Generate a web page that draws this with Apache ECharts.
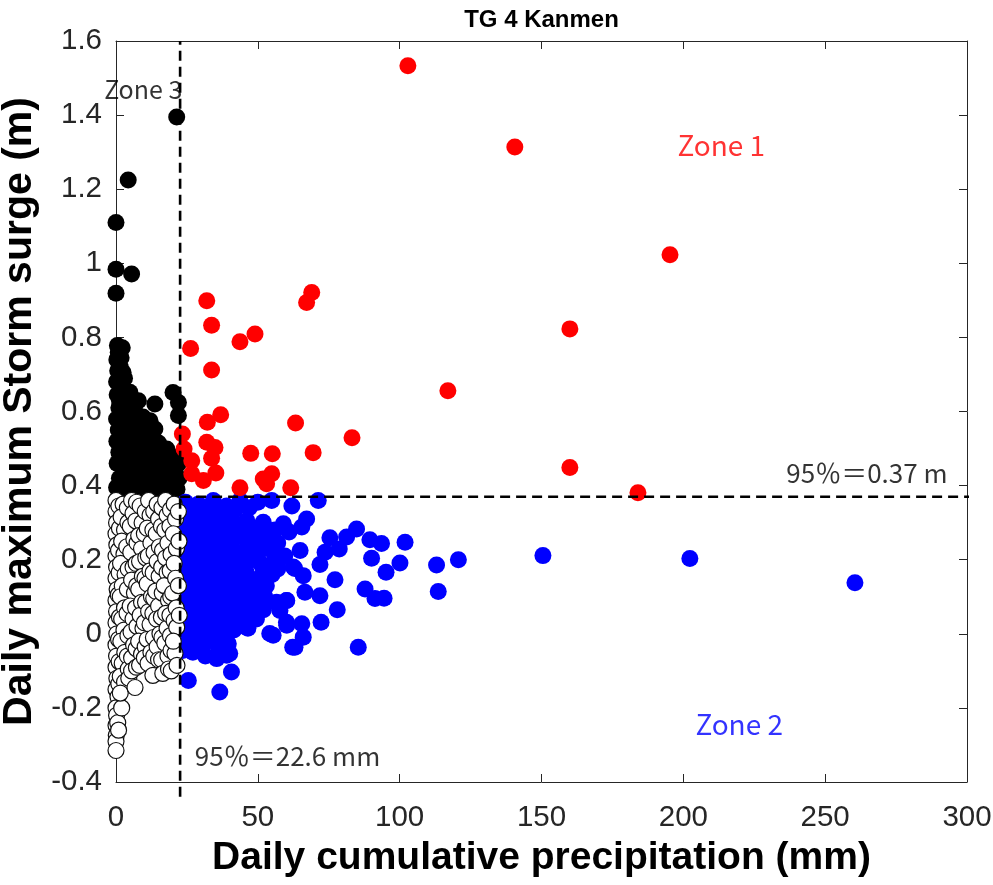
<!DOCTYPE html>
<html>
<head>
<meta charset="utf-8">
<script src="https://cdn.jsdelivr.net/npm/echarts@6/dist/echarts.min.js"></script>
<style>
html,body{margin:0;padding:0;background:#fff;}
#chart{width:993px;height:885px;}
</style>
</head>
<body>
<div id="chart"></div>
<script>
// thresholds (95th percentile)
var pcp95 = 22.6;
var surge95 = 0.37;

// axis ticks
var xTicks = [0, 50, 100, 150, 200, 250, 300];
var yTicks = [-0.4, -0.2, 0, 0.2, 0.4, 0.6, 0.8, 1, 1.2, 1.4, 1.6];

// zone 1: precipitation > 22.6 and surge > 0.37 (red)
var zone1 = [
	[102.9,1.533],[140.6,1.314],[195.3,1.023],[160.0,0.823],[117.0,0.656],[160.0,0.449],[184.0,0.381],
	[32.0,0.899],[33.7,0.833],[26.3,0.770],[43.7,0.788],[49.0,0.809],[69.0,0.921],[67.2,0.894],
	[33.7,0.712],[36.9,0.591],[32.2,0.571],[63.3,0.569],[83.2,0.529],[23.4,0.539],[32.0,0.517],
	[34.9,0.503],[24.0,0.499],[26.7,0.467],[33.7,0.474],[47.5,0.487],[55.1,0.486],[69.5,0.489],
	[35.2,0.434],[26.7,0.432],[30.8,0.414],[51.9,0.418],[54.9,0.432],[53.1,0.405],[43.7,0.394],[61.6,0.394]
];

// zone 2: precipitation > 22.6 and surge <= 0.37 (blue)
var zone2 = [
	[24.5,0.355],[29,0.35],[34.3,0.36],[39,0.345],[43.7,0.36],[54.9,0.36],[71.3,0.36],
	[23.5,0.32],[27.5,0.315],[31.5,0.325],[36,0.31],[40.5,0.32],[46.1,0.306],[51.9,0.301],[59,0.297],[67.2,0.31],[65.5,0.288],
	[25,0.28],[29.5,0.275],[33.5,0.285],[38,0.27],[42,0.28],[48,0.27],[53,0.265],
	[23.8,0.24],[27.8,0.245],[32,0.235],[36.5,0.25],[40.5,0.24],[47,0.245],[52,0.235],[57,0.245],
	[25.5,0.2],[30,0.205],[34,0.195],[38.5,0.21],[43,0.2],[48,0.205],[53.6,0.184],[57.5,0.2],
	[23.5,0.16],[28,0.165],[32.5,0.155],[37,0.17],[41.5,0.16],[46,0.165],[50.5,0.15],[55,0.16],
	[25.5,0.12],[30,0.125],[34.5,0.115],[39,0.13],[43.5,0.12],[47.5,0.11],[50.8,0.122],
	[23.8,0.08],[28.5,0.085],[33,0.075],[37.5,0.09],[42,0.08],[46,0.07],[56.6,0.085],[60.1,0.09],
	[25.5,0.04],[30,0.045],[34.5,0.035],[39,0.05],[43.5,0.04],[49.5,0.04],[60.1,0.031],
	[24,0.005],[28.5,0.0],[33,0.01],[37.5,-0.005],[41.5,0.01],[54.2,0.001],
	[26,-0.03],[31,-0.025],[36,-0.035],[40.1,-0.053],[27.1,-0.05],[35.5,-0.067],[40.7,-0.103],[25.5,-0.126],[36.6,-0.157],
	[26,0.34],[31.5,0.34],[37,0.33],[42,0.335],[47,0.34],[50,0.355],[62,0.345],
	[24,0.3],[29,0.295],[34,0.3],[38.5,0.29],[44,0.295],[49.5,0.285],[56,0.28],[61,0.275],
	[26,0.26],[31,0.255],[35,0.265],[40,0.26],[45,0.26],[50,0.25],[55,0.27],
	[25,0.22],[29.5,0.225],[34,0.215],[38,0.23],[42.5,0.22],[45.5,0.225],[50,0.215],[55.5,0.22],[59.5,0.21],
	[24.5,0.18],[29,0.185],[33.5,0.175],[38,0.19],[42,0.18],[46,0.19],[51,0.19],[57,0.175],
	[24,0.14],[28.5,0.145],[33,0.135],[37.5,0.15],[42.5,0.14],[47,0.145],[53,0.13],
	[24.5,0.1],[29,0.105],[33.5,0.095],[38,0.11],[43,0.1],[48,0.09],[52.5,0.1],
	[24.5,0.06],[29,0.065],[33.5,0.055],[38,0.07],[42.5,0.06],[47,0.055],[52,0.065],
	[25,0.02],[29.5,0.025],[34,0.02],[38.5,0.03],[43,0.02],[46.5,0.015],
	[24,-0.01],[28.5,-0.015],[33,-0.01],[38,-0.02],[23.5,-0.045],[31.5,-0.06],[29.5,-0.04],
	[260.5,0.138],[202.3,0.203],[150.5,0.211],[120.7,0.200],[113.0,0.186],[113.6,0.114],
	[101.9,0.247],[100.1,0.191],[93.6,0.244],[89.5,0.254],[90.1,0.204],[95.2,0.166],
	[87.8,0.121],[91.3,0.095],[94.5,0.096],[84.8,0.283],[81.3,0.261],[75.4,0.259],[78.7,0.229],
	[73.7,0.220],[71.9,0.187],[77.2,0.146],[78.0,0.065],[72.3,0.031],[85.4,-0.036],
	[64.9,0.225],[62.5,0.180],[66.0,0.157],[66.6,0.112],[71.9,0.103],[60.2,0.090],
	[65.5,0.027],[66.0,-0.009],[63.1,-0.036],[55.4,-0.004],[60.2,0.023],[57.8,0.063],
	[48.4,0.054],[51.9,0.175],[39.6,-0.027],[39.0,-0.058],[63.0,0.176],[62.3,-0.036]
];

// zone 3: precipitation <= 22.6 and surge > 0.37 (black)
var zone3 = [
	[0,1.11],[0,0.984],[5.5,0.971],[0,0.919],[4.3,1.225],[21.4,1.395],
	[0.5,0.778],[2.2,0.772],[0.3,0.74],[1.8,0.745],[0.6,0.71],[2.5,0.705],[0.2,0.68],[1.5,0.672],[3.0,0.69],
	[0.4,0.645],[2.4,0.64],[4.9,0.652],[1.0,0.61],[3.5,0.615],[7.9,0.629],[13.7,0.62],[20.1,0.651],[22.0,0.624],[22.0,0.589],
	[0.2,0.58],[2.8,0.575],[5.5,0.59],[9.5,0.585],[0.8,0.55],[4.0,0.545],[7.0,0.56],[9.0,0.548],[13.7,0.553],[11.5,0.53],
	[0.3,0.52],[2.5,0.515],[5.8,0.52],[8.5,0.51],[15.0,0.515],[17.9,0.499],[1.0,0.49],[4.0,0.485],[7.2,0.48],[10.5,0.49],
	[13.0,0.475],[16.0,0.47],[19.5,0.48],[0.4,0.46],[2.8,0.45],[6.0,0.45],[9.0,0.455],[12.0,0.44],[15.5,0.445],[18.5,0.435],
	[20.8,0.441],[1.2,0.42],[4.5,0.425],[7.8,0.415],[11.0,0.41],[14.0,0.42],[17.0,0.405],[20.5,0.41],[0.2,0.395],[3.0,0.39],
	[6.0,0.385],[9.5,0.385],[12.5,0.39],[15.5,0.38],[18.5,0.385],[21.5,0.39],[1.5,0.375],[5.0,0.372],[8.0,0.375],
	[0.8,0.76],[1.5,0.72],[2.2,0.66],[1.2,0.63],[3.2,0.6],[6.5,0.61],[5.2,0.565],[10.5,0.565],[12,0.575],[1.8,0.535],
	[4.8,0.505],[10,0.52],[12.5,0.505],[16.2,0.49],[3.2,0.47],[8.5,0.465],[14.5,0.46],[19,0.455],[22,0.46],[6,0.405],
	[9.5,0.43],[13.5,0.4],[16.5,0.43],[19.8,0.395],[22.2,0.42],[11,0.37]
];

// precipitation <= 22.6 and surge <= 0.37 (white)
var zone4 = [
	[0,0.36],[0,0.33],[0.2,0.30],[0,0.27],[0.3,0.24],[0,0.21],[0.2,0.18],[0,0.15],[0.4,0.12],[0,0.09],[0.2,0.06],[0,0.03],
	[0.3,0.0],[0,-0.03],[0.2,-0.06],[0,-0.09],[0.3,-0.12],[0,-0.15],[0.7,-0.17],[0,-0.2],[0.2,-0.22],[0,-0.247],[0.1,-0.274],[0,-0.29],[0,-0.315],
	[1,0.345],[1.2,0.285],[0.9,0.225],[1.1,0.165],[0.8,0.105],[1.2,0.045],[0.9,-0.015],[1.1,-0.075],[1,-0.135],[0.6,-0.24],[0.9,-0.26],
	[2.5,0.35],[1.8,0.315],[3,0.28],[2,0.25],[2.8,0.215],[1.6,0.19],[3.2,0.16],[2.2,0.13],[1.5,0.10],[3,0.07],[2,0.04],[2.8,0.01],
	[1.7,-0.02],[3.1,-0.05],[2.2,-0.08],[1.5,-0.115],[3,-0.13],[2,-0.2],[1.5,-0.16],
	[4,0.34],[4.2,0.3],[3.8,0.235],[4.3,0.175],[4,0.12],[3.9,0.055],[4.2,-0.005],[4,-0.06],[4.3,-0.095],[4.5,-0.12],
	[5.5,0.36],[6,0.325],[5,0.29],[6.3,0.255],[5.2,0.22],[6,0.18],[5.5,0.145],[6.5,0.11],[5,0.075],[6,0.04],[5.3,0.005],[6.2,-0.03],[5.5,-0.065],[5.5,-0.1],[6.7,-0.145],
	[7.2,0.355],[7,0.305],[7.4,0.245],[7.1,0.19],[7.3,0.13],[6.9,0.07],[7.4,0.02],[7.1,-0.04],[7.2,-0.09],
	[8.5,0.345],[9.2,0.3],[8,0.265],[9,0.23],[8.3,0.195],[9.3,0.155],[8,0.12],[9,0.085],[8.5,0.05],[9.5,0.015],[8,-0.02],[9,-0.055],[8.3,-0.085],
	[10.3,0.33],[10,0.27],[10.5,0.205],[10.2,0.15],[10.4,0.085],[10,0.03],[10.3,-0.035],[10,-0.065],
	[11.5,0.36],[12,0.32],[11,0.285],[12.3,0.245],[11.4,0.21],[12,0.17],[11,0.135],[12.5,0.1],[11.5,0.06],[12,0.025],[11,-0.015],[12.3,-0.05],[11.3,-0.08],
	[13.3,0.33],[13,0.28],[13.4,0.22],[13.1,0.165],[13.3,0.095],[13,0.055],[13.2,-0.01],[13.3,-0.06],
	[14.5,0.35],[15,0.31],[14.2,0.27],[15.3,0.235],[14.5,0.195],[15.2,0.155],[14,0.115],[15,0.075],[14.3,0.04],[15.5,0.0],[14.5,-0.035],[15,-0.07],[13,-0.112],
	[16.2,0.34],[16,0.29],[16.4,0.225],[16.1,0.18],[16.3,0.11],[16,0.045],[16.2,-0.01],[16.1,-0.07],
	[17.5,0.36],[18,0.32],[17.2,0.28],[18.3,0.245],[17.5,0.205],[18,0.165],[17,0.13],[18.5,0.09],[17.5,0.055],[18,0.015],[17.2,-0.025],[18.3,-0.06],[16.5,-0.107],[18.5,-0.095],
	[19.2,0.335],[19,0.29],[19.4,0.215],[19.1,0.17],[19.3,0.1],[19,0.05],[19.2,-0.005],[19.4,-0.045],[19.5,-0.1],
	[20.5,0.35],[21,0.31],[20.2,0.27],[21.3,0.23],[20.5,0.19],[21,0.15],[20,0.11],[21.2,0.07],[20.5,0.035],[21.4,0.018],[20.8,-0.053],[20.2,-0.02],[21.5,-0.085],
	[22,0.33],[22.2,0.25],[22,0.13],[22.3,0.05]
];

// annotation texts and where they sit (data units)
var notes = [
	{ text: 'Zone 1', at: [213.4, 1.317], color: '#ff0000', size: 28, align: 'center' },
	{ text: 'Zone 2', at: [219.7, -0.244], color: '#0000ff', size: 28, align: 'center' },
	{ text: 'Zone 3', at: [9.6, 1.47], color: '#000000', size: 25, align: 'center' },
	{ text: '95％＝22.6 mm', at: [27.8, -0.331], color: '#000000', size: 26, align: 'left' },
	{ text: '95％＝0.37 m', at: [236.3, 0.435], color: '#000000', size: 26, align: 'left' }
];

var chart = echarts.init(document.getElementById('chart'));

var axisCol = '#262626';
var fontMain = '"Liberation Sans", Arial, sans-serif';

function xAxisDef(pos, showLabel){
	return {
		type: 'value', position: pos, min: xTicks[0], max: xTicks[xTicks.length-1], interval: 50,
		axisLine: { show: true, onZero: false, lineStyle: { color: axisCol, width: 1 } },
		axisTick: { show: true, inside: true, length: 8, lineStyle: { color: axisCol } },
		axisLabel: { show: showLabel, fontSize: 29.5, color: axisCol, margin: 21, fontFamily: fontMain },
		splitLine: { show: false }
	};
}
function yAxisDef(pos, showLabel){
	return {
		type: 'value', position: pos, min: yTicks[0], max: yTicks[yTicks.length-1], interval: 0.2,
		axisLine: { show: true, onZero: false, lineStyle: { color: axisCol, width: 1 } },
		axisTick: { show: true, inside: true, length: 8, lineStyle: { color: axisCol } },
		axisLabel: { show: showLabel, fontSize: 29.5, color: axisCol, margin: 14, fontFamily: fontMain },
		splitLine: { show: false }
	};
}

var xb = xAxisDef('bottom', true);
xb.name = 'Daily cumulative precipitation (mm)';
xb.nameLocation = 'middle';
xb.nameGap = 57;
xb.nameTextStyle = { fontSize: 39, fontWeight: 'bold', color: '#000', fontFamily: fontMain };
var xt = xAxisDef('top', false);
xt.name = 'TG 4 Kanmen';
xt.nameLocation = 'middle';
xt.nameGap = 9;
xt.nameTextStyle = { fontSize: 24, fontWeight: 'bold', color: '#000', fontFamily: fontMain };

var yl = yAxisDef('left', true);
yl.name = 'Daily maximum Storm surge (m)';
yl.nameLocation = 'middle';
yl.nameGap = 70;
yl.nameTextStyle = { fontSize: 41, fontWeight: 'bold', color: '#000', fontFamily: fontMain };
var yr = yAxisDef('right', false);

function dots(name, data, fill, border){
	return {
		name: name, type: 'scatter', data: data, symbol: 'circle',
		symbolSize: border ? 16 : 17,
		itemStyle: { color: fill, opacity: 1, borderColor: border || fill, borderWidth: border ? 1.2 : 0 },
		emphasis: { disabled: true }, z: 2
	};
}

var series = [
	dots('zone3', zone3, '#000000'),
	dots('zone2', zone2, '#0000ff'),
	dots('zone1', zone1, '#ff0000'),
	dots('normal', zone4, '#ffffff', '#111111'),
	{
		type: 'line', data: [[pcp95, -0.44], [pcp95, yTicks[yTicks.length-1]]], clip: false,
		symbol: 'none', lineStyle: { color: '#000', width: 2.6, type: [10, 6] }, z: 5, silent: true
	},
	{
		type: 'line', data: [[pcp95, surge95], [312, surge95]], clip: false,
		symbol: 'none', lineStyle: { color: '#000', width: 2.6, type: [10, 6] }, z: 5, silent: true
	}
];

notes.forEach(function(n){
	series.push({
		type: 'scatter', symbolSize: 0, silent: true, z: 6,
		data: [n.at],
		label: {
			show: true, position: n.align === 'left' ? 'right' : 'inside', distance: 0,
			formatter: n.text, color: n.color, fontSize: n.size,
			fontFamily: '"Noto Sans CJK JP", "Noto Sans", sans-serif'
		}
	});
});

var option = {
	animation: false,
	backgroundColor: '#fff',
	grid: { left: 116, right: 26, top: 41, bottom: 103, outerBoundsMode: 'none' },
	xAxis: [xb, xt],
	yAxis: [yl, yr],
	series: series
};
chart.setOption(option);
</script>
</body>
</html>
